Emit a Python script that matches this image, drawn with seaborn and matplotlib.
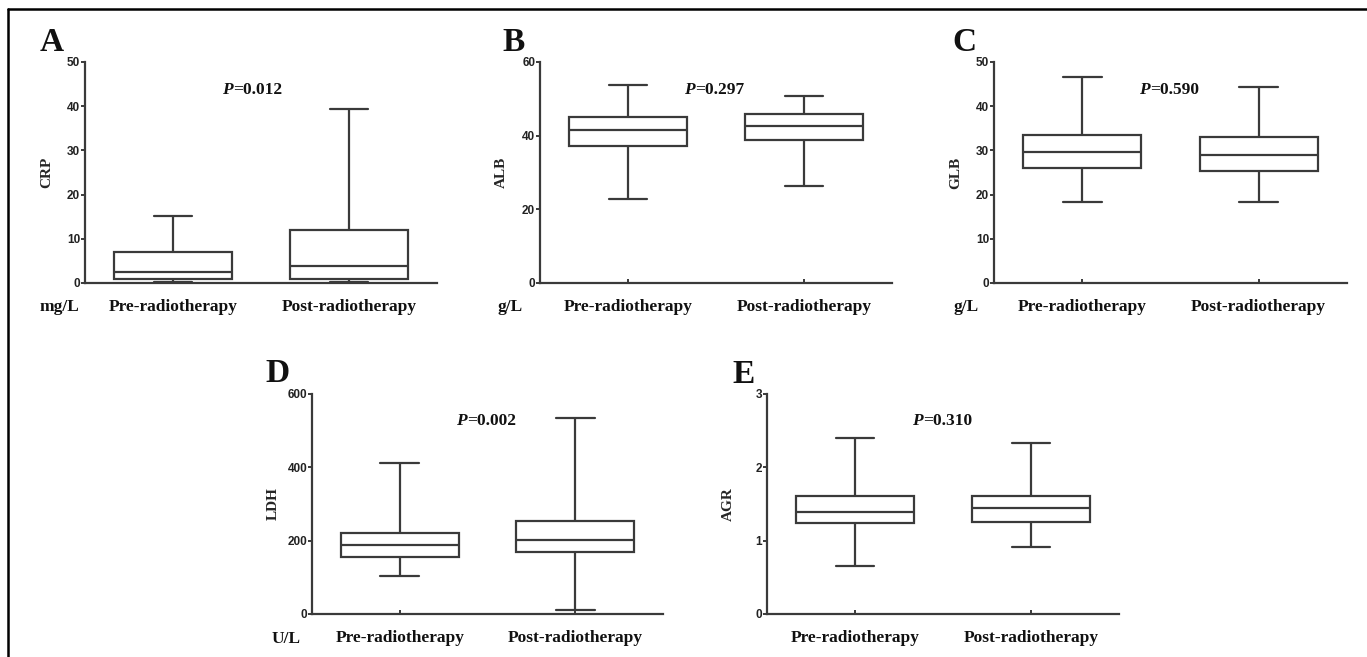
import numpy as np
import pandas as pd
import matplotlib
matplotlib.use("Agg")
import matplotlib.pyplot as plt
from matplotlib.lines import Line2D
import seaborn as sns

# Five-number summaries: min, Q1, median, Q3, max
groups = ["Pre-radiotherapy", "Post-radiotherapy"]

crp_pre = [0.3, 1.0, 2.6, 7.0, 15.2]
crp_post = [0.2, 0.9, 3.9, 12.0, 39.4]

alb_pre = [22.9, 37.3, 41.6, 45.1, 53.8]
alb_post = [26.3, 38.7, 42.5, 45.8, 50.9]

glb_pre = [18.3, 26.0, 29.6, 33.5, 46.6]
glb_post = [18.3, 25.3, 29.0, 33.0, 44.3]

ldh_pre = [105, 156, 187, 222, 411]
ldh_post = [11, 168, 202, 254, 534]

agr_pre = [0.65, 1.24, 1.39, 1.61, 2.40]
agr_post = [0.91, 1.25, 1.44, 1.61, 2.33]

panels = [
    # letter, ylabel, unit, p-value, pre, post, ymax, yticks
    ("A", "CRP", "mg/L", "0.012", crp_pre, crp_post, 50, [0, 10, 20, 30, 40, 50]),
    ("B", "ALB", "g/L", "0.297", alb_pre, alb_post, 60, [0, 20, 40, 60]),
    ("C", "GLB", "g/L", "0.590", glb_pre, glb_post, 50, [0, 10, 20, 30, 40, 50]),
    ("D", "LDH", "U/L", "0.002", ldh_pre, ldh_post, 600, [0, 200, 400, 600]),
    ("E", "AGR", "", "0.310", agr_pre, agr_post, 3, [0, 1, 2, 3]),
]

# layout in pixels: axes left, right, top, bottom
W, H = 1367, 657
boxes_px = [
    (85, 437, 62, 283),
    (540, 892, 62, 283),
    (994, 1347, 62, 283),
    (312, 663, 394, 614),
    (767, 1119, 394, 614),
]
letter_px = [(40, 51), (502, 51), (952, 51), (265, 382), (732, 383)]
p_px = [(233, 94), (695, 94), (1150, 94), (467, 425), (923, 425)]
unit_px = [(40, 311), (498, 311), (953, 311), (272, 643), None]

sns.set_style("white")
serif = "Liberation Serif"
sans = "Liberation Sans"
line_col = "#3a3a3a"

fig = plt.figure(figsize=(W / 100, H / 100), dpi=100)


def fx(x):
    return x / W


def fy(y):
    return 1 - y / H


for i, (letter, ylab, unit, pval, pre, post, ymax, yt) in enumerate(panels):
    l, r, t, b = boxes_px[i]
    ax = fig.add_axes([fx(l), fy(b), (r - l) / W, (b - t) / H])
    df = pd.DataFrame({
        "group": [groups[0]] * len(pre) + [groups[1]] * len(post),
        "value": pre + post,
    })
    sns.boxplot(data=df, x="group", y="value", order=groups, ax=ax,
                whis=(0, 100), width=0.67, color="white", linecolor=line_col,
                linewidth=1.6, showfliers=False, capwidths=0.22)
    ax.set_xlim(-0.5, 1.5)
    ax.set_ylim(0, ymax)
    ax.set_yticks(yt)
    ax.set_xlabel("")
    ax.set_ylabel(ylab, fontfamily=serif, fontweight="bold", fontsize=11)
    ax.yaxis.set_label_coords(-0.091, 0.5)
    for s in ["top", "right"]:
        ax.spines[s].set_visible(False)
    for s in ["left", "bottom"]:
        ax.spines[s].set_color(line_col)
        ax.spines[s].set_linewidth(1.6)
    ax.tick_params(axis="y", direction="out", length=3, width=1.4, color=line_col,
                   pad=0.5, labelsize=8.5, left=True)
    ax.tick_params(axis="x", direction="in", length=3, width=1.4, color=line_col,
                   pad=11.5, labelsize=12.5, bottom=True)
    for lab in ax.get_yticklabels():
        lab.set_fontfamily(sans)
        lab.set_fontweight("bold")
        lab.set_color("#222222")
    for lab in ax.get_xticklabels():
        lab.set_fontfamily(serif)
        lab.set_fontweight("bold")
        lab.set_color("#111111")

    # panel letter
    lx, ly = letter_px[i]
    fig.text(fx(lx), fy(ly), letter, fontfamily=serif, fontweight="bold",
             fontsize=24, ha="left", va="baseline", color="#111111")

    # p value: italic P then the number
    px, py = p_px[i]
    fig.text(fx(px), fy(py), "P", fontfamily=serif, fontweight="bold",
             style="italic", fontsize=12.5, ha="right", va="baseline",
             color="#111111")
    fig.text(fx(px), fy(py), "=" + pval, fontfamily=serif, fontweight="bold",
             fontsize=12.5, ha="left", va="baseline", color="#111111")

    # unit
    if unit_px[i] is not None:
        ux, uy = unit_px[i]
        fig.text(fx(ux), fy(uy), unit, fontfamily=serif, fontweight="bold",
                 fontsize=12.5, ha="left", va="baseline", color="#111111")

# outer frame (top and left edges only)
fig.add_artist(Line2D([fx(8), 1], [fy(9), fy(9)], color="black", lw=1.8,
                      transform=fig.transFigure))
fig.add_artist(Line2D([fx(8), fx(8)], [fy(9), 0], color="black", lw=1.8,
                      transform=fig.transFigure))

fig.savefig("out.png", dpi=100, facecolor="white")
